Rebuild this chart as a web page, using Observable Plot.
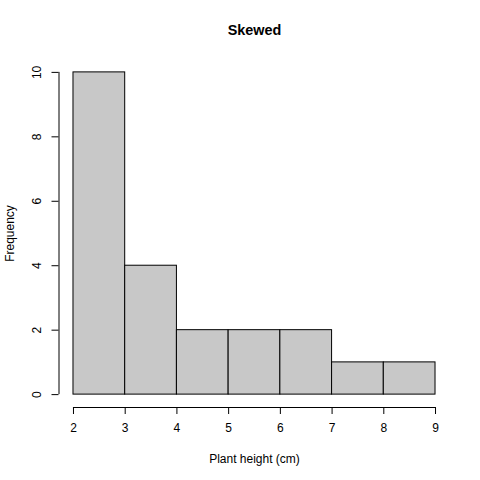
<!DOCTYPE html>
<html>
<head>
<meta charset="utf-8">
<script src="https://cdn.jsdelivr.net/npm/d3@7"></script>
<script src="https://cdn.jsdelivr.net/npm/@observablehq/plot@0.6"></script>
<style>
  body { margin: 0; background: white; }
</style>
</head>
<body>
<div id="chart"></div>
<script>
// bins of the histogram
const binStart = [2, 3, 4, 5, 6, 7, 8]
const binEnd = [3, 4, 5, 6, 7, 8, 9]
const counts = [10, 4, 2, 2, 2, 1, 1]
const xTicks = [2, 3, 4, 5, 6, 7, 8, 9]
const yTicks = [0, 2, 4, 6, 8, 10]

const bins = binStart.map((d, i) => ({x1: d, x2: binEnd[i], n: counts[i]}))

// R pads the axis range by 4%
const pad = (a, b) => [a - (b - a) * 0.04, b + (b - a) * 0.04]
const xDom = pad(d3.min(binStart), d3.max(binEnd))
const yDom = pad(0, d3.max(counts))

let chart = Plot.plot({
  width: 480,
  height: 480,
  marginLeft: 58.5,
  marginRight: 30.5,
  marginTop: 59,
  marginBottom: 73,
  style: {fontFamily: "'Liberation Sans', Arial, sans-serif", fontSize: "12px", background: "white"},
  x: {domain: xDom, axis: null},
  y: {domain: yDom, axis: null},
  marks: [
    Plot.rectY(bins, {x1: 'x1', x2: 'x2', y: 'n', fill: '#c8c8c8', stroke: 'black', strokeWidth: 1, inset: 0}),
    // axes
    Plot.ruleY([yDom[0]], {x1: xTicks[0], x2: xTicks[xTicks.length - 1], stroke: 'black'}),
    Plot.ruleX([xDom[0]], {y1: yTicks[0], y2: yTicks[yTicks.length - 1], stroke: 'black'}),
    Plot.axisX(xTicks, {tickSize: 7, tickFormat: () => '', label: null, stroke: 'black'}),
    Plot.axisY(yTicks, {tickSize: 7, tickFormat: () => '', label: null, stroke: 'black'}),
    Plot.text(xTicks, {x: d => d, frameAnchor: 'bottom', dy: 21, textAnchor: 'middle', lineAnchor: 'middle', fontSize: 12, fill: 'black'}),
    Plot.text(yTicks, {y: d => d, frameAnchor: 'left', dx: -22, rotate: -90, textAnchor: 'middle', lineAnchor: 'middle', fontSize: 12, fill: 'black'}),
    // titulos
    Plot.text(["Skewed"], {frameAnchor: 'top', dy: -29, fontWeight: 'bold', fontSize: 14.4, textAnchor: 'middle', lineAnchor: 'middle', fill: 'black'}),
    Plot.text(["Plant height (cm)"], {frameAnchor: 'bottom', dy: 52, fontSize: 12, textAnchor: 'middle', lineAnchor: 'middle', fill: 'black'}),
    Plot.text(["Frequency"], {frameAnchor: 'left', dx: -48.5, rotate: -90, fontSize: 12, textAnchor: 'middle', lineAnchor: 'middle', fill: 'black'})
  ]
})
d3.select('#chart').append(() => chart)
</script>
</body>
</html>
